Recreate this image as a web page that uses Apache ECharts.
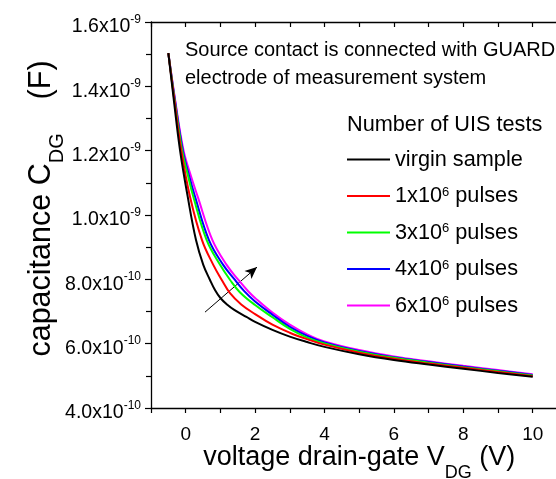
<!DOCTYPE html>
<html><head><meta charset="utf-8">
<script src="https://cdn.jsdelivr.net/npm/echarts@6/dist/echarts.min.js"></script>
<style>html,body{margin:0;padding:0;background:#fff}#c{width:556px;height:479px}</style>
</head><body><div id="c"></div>
<script>
// Capacitance values in units of 1e-9 F, voltage in V
const seriesNames = ['virgin sample', '1x10^6 pulses', '3x10^6 pulses', '4x10^6 pulses', '6x10^6 pulses'];
const virgin = [[-0.5,1.503],[-0.35,1.365],[-0.164,1.202],[0.058,1.057],[0.297,0.922],[0.507,0.845],[0.70,0.798],[0.844,0.767],[1.0,0.742],[1.2,0.721],[1.4,0.705],[1.75,0.683],[2.0,0.668],[2.5,0.643],[3.0,0.622],[3.5,0.605],[4,0.590],[5,0.567],[6,0.549],[7,0.535],[8,0.522],[9,0.509],[10,0.497]];
const pulses1 = [[-0.5,1.503],[-0.33,1.36],[-0.13,1.202],[0.124,1.057],[0.47,0.922],[0.795,0.845],[1.04,0.798],[1.277,0.757],[1.6,0.722],[2.0,0.692],[2.5,0.659],[3.0,0.634],[3.5,0.614],[4,0.597],[5,0.572],[6,0.553],[7,0.538],[8,0.525],[9,0.512],[10,0.499]];
const pulses3 = [[-0.5,1.503],[-0.32,1.358],[-0.105,1.202],[0.06,1.125],[0.22,1.057],[0.605,0.922],[0.99,0.845],[1.28,0.798],[1.56,0.760],[2.0,0.720],[2.5,0.682],[3.0,0.646],[3.5,0.619],[4,0.601],[5,0.575],[6,0.556],[7,0.541],[8,0.527],[9,0.514],[10,0.501]];
const pulses4 = [[-0.5,1.503],[-0.31,1.356],[-0.085,1.202],[0.09,1.125],[0.268,1.057],[0.67,0.922],[1.08,0.845],[1.42,0.798],[1.68,0.764],[2.0,0.731],[2.5,0.690],[3.0,0.652],[3.5,0.624],[4,0.604],[5,0.577],[6,0.558],[7,0.543],[8,0.529],[9,0.516],[10,0.503]];
const pulses6 = [[-0.5,1.503],[-0.30,1.355],[-0.065,1.202],[0.14,1.125],[0.346,1.057],[0.77,0.922],[1.18,0.845],[1.52,0.798],[1.80,0.763],[2.0,0.742],[2.52,0.695],[3.0,0.659],[3.5,0.629],[4,0.607],[5,0.580],[6,0.560],[7,0.545],[8,0.531],[9,0.518],[10,0.505]];
const arrowFrom = [0.556, 0.698];
const arrowTo = [2.055, 0.838];
const xLabelValues = [0, 2, 4, 6, 8, 10];
const annotation = ['Source contact is connected with GUARD', 'electrode of measurement system'];
const legendHeading = 'Number of UIS tests';

const seriesData = [virgin, pulses1, pulses3, pulses4, pulses6];
const colors = ['#000000', '#ff0000', '#00ff00', '#0000ff', '#ff00ff'];
const FONT = 'Liberation Sans, Arial, sans-serif';

function yLabel(v) {
  v = Math.round(v * 100) / 100;
  let m, e;
  if (v >= 1 - 1e-9) { m = v; e = -9; } else { m = v * 10; e = -10; }
  return '{b|' + m.toFixed(1) + 'x10}{s|' + e + '}';
}
function legendLabel(name) {
  const m = name.match(/^(.*)\^(\d+)(.*)$/);
  if (!m) return '{a|' + name + '}';
  return '{a|' + m[1] + '}{s|' + m[2] + '}{a|' + m[3] + '}';
}

const chart = echarts.init(document.getElementById('c'), null, {renderer: 'canvas'});
const option = {
  backgroundColor: '#fff',
  animation: false,
  title: [
    {text: annotation.join('\n'), left: 185, top: 36, padding: 0,
     textStyle: {fontFamily: FONT, fontSize: 20, fontWeight: 'normal', color: '#000', lineHeight: 28}},
    {text: legendHeading, left: 347, top: 112, padding: 0,
     textStyle: {fontFamily: FONT, fontSize: 21.7, fontWeight: 'normal', color: '#000', lineHeight: 26}}
  ],
  legend: {
    orient: 'vertical', left: 347, top: 148.6, padding: 0,
    icon: 'rect', itemWidth: 43, itemHeight: 2, itemGap: 14.5,
    data: seriesNames,
    formatter: legendLabel,
    textStyle: {
      rich: {
        a: {fontFamily: FONT, fontSize: 21.7, color: '#000', lineHeight: 26},
        s: {fontFamily: FONT, fontSize: 13, color: '#000', lineHeight: 16, padding: [0, 0, 8, 0]}
      }
    }
  },
  grid: {left: 151, right: -11.4, top: 22, bottom: 71, containLabel: false, outerBoundsMode: 'none'},
  xAxis: [
    {type: 'value', position: 'bottom', min: -1, max: 11, interval: 1,
     axisLine: {onZero: false, lineStyle: {color: '#000', width: 1.3}},
     axisTick: {inside: false, length: 5, lineStyle: {color: '#000', width: 1.2}},
     splitLine: {show: false},
     axisLabel: {margin: 17, color: '#000', fontFamily: FONT, fontSize: 19,
       formatter: v => xLabelValues.indexOf(Math.round(v)) >= 0 && Math.abs(v - Math.round(v)) < 1e-6 ? String(Math.round(v)) : ''},
     name: '{a|voltage drain-gate V}{s|DG}{a| (V)}', nameLocation: 'middle', nameGap: 23.5, nameMoveOverlap: false,
     nameTextStyle: {rich: {
       a: {fontFamily: FONT, fontSize: 27, color: '#000', lineHeight: 52},
       s: {fontFamily: FONT, fontSize: 18, color: '#000', lineHeight: 20, padding: [32, 0, 0, 0]}
     }}},
    {type: 'value', position: 'top', min: -1, max: 11, interval: 1,
     axisLine: {onZero: false, lineStyle: {color: '#000', width: 1.3}},
     axisTick: {inside: true, length: 5, lineStyle: {color: '#000', width: 1.2}},
     axisLabel: {show: false}, splitLine: {show: false}}
  ],
  yAxis: {
    type: 'value', min: 0.4, max: 1.6, interval: 0.2,
    axisLine: {show: true, onZero: false, lineStyle: {color: '#000', width: 1.3}},
    axisTick: {show: true, inside: false, length: 6, lineStyle: {color: '#000', width: 1.2}},
    minorTick: {show: true, splitNumber: 2, length: 5, lineStyle: {color: '#000', width: 1.2}},
    splitLine: {show: false},
    axisLabel: {margin: 10, formatter: yLabel, rich: {
      b: {fontFamily: FONT, fontSize: 19.5, color: '#000', lineHeight: 22, padding: [10, 0, 0, 0]},
      s: {fontFamily: FONT, fontSize: 12, color: '#000', lineHeight: 14, padding: [0, 0, 5, 0]}
    }},
    name: '{a|capacitance C}{s|DG}{a|    (F)}', nameLocation: 'middle', nameRotate: 90, nameGap: 84, nameMoveOverlap: false,
    nameTextStyle: {padding: [0, 0, 0, 13], rich: {
      a: {fontFamily: FONT, fontSize: 30.5, color: '#000', lineHeight: 50},
      s: {fontFamily: FONT, fontSize: 20, color: '#000', lineHeight: 20, padding: [30, 0, 0, 0]}
    }}
  },
  series: seriesData.map((d, i) => ({
    name: seriesNames[i], type: 'line', data: d, xAxisIndex: 0,
    symbol: 'none', showSymbol: false, smooth: 0.4,
    color: colors[i], lineStyle: {width: 2, color: colors[i]}, z: 10 - i,
    markLine: i === 0 ? {
      silent: true, symbol: ['none', 'arrow'], symbolSize: [8, 12], animation: false,
      lineStyle: {color: '#000', width: 1, type: 'solid'}, label: {show: false},
      data: [[{coord: arrowFrom}, {coord: arrowTo}]]
    } : undefined
  }))
};
chart.setOption(option);
</script></body></html>
